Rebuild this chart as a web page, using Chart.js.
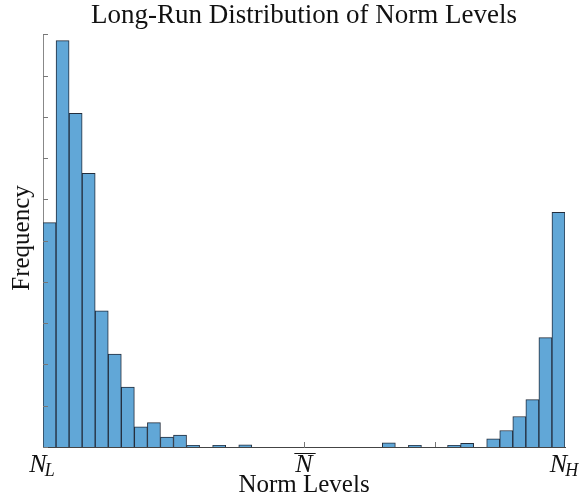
<!DOCTYPE html>
<html>
<head>
<meta charset="utf-8">
<script src="https://cdn.jsdelivr.net/npm/chart.js@4.4.1/dist/chart.umd.min.js"></script>
<style>
  body { margin: 0; background: #fff; }
  #wrap { width: 582px; height: 501px; }
</style>
</head>
<body>
<div id="wrap"><canvas id="histchart" width="582" height="501"></canvas></div>
<script>
// histogram: 40 equal bins between N_L and N_H
const binCount = 40;
const binFreq = [5.44, 9.85, 8.09, 6.63, 3.30, 2.25, 1.45, 0.49, 0.59, 0.24,
                 0.29, 0.04, 0, 0.04, 0, 0.05, 0, 0, 0, 0,
                 0, 0, 0, 0, 0, 0, 0.10, 0, 0.04, 0,
                 0, 0.04, 0.09, 0, 0.20, 0.40, 0.74, 1.15, 2.65, 5.69];
const tickValues = [0, 20, 40];
const tickLabels = [['N', 'L', false], ['N', '', true], ['N', 'H', false]];
const minorTicks = [20, 30];
const yTitle = 'Frequency';

const serif = '"Liberation Serif", "DejaVu Serif", serif';

const mathTicks = {
    id: 'mathTicks',
    afterDraw(chart) {
        const ctx = chart.ctx;
        const xs = chart.scales.x;
        const ys = chart.scales.y;
        ctx.save();
        // inward tick marks
        ctx.strokeStyle = '#777';
        ctx.lineWidth = 1;
        ys.ticks.forEach(t => {
            const py = Math.round(ys.getPixelForValue(t.value)) + 0.5;
            ctx.beginPath();
            ctx.moveTo(xs.left, py);
            ctx.lineTo(xs.left + 5, py);
            ctx.stroke();
        });
        minorTicks.forEach(v => {
            const px = Math.round(xs.getPixelForValue(v)) + 0.5;
            ctx.beginPath();
            ctx.moveTo(px, ys.bottom);
            ctx.lineTo(px, ys.bottom - 5);
            ctx.stroke();
        });
        // labels N_L, N-bar, N_H
        ctx.fillStyle = '#111';
        ctx.textBaseline = 'alphabetic';
        ctx.textAlign = 'left';
        tickValues.forEach((v, i) => {
            const [main, sub, bar] = tickLabels[i];
            ctx.font = 'italic 26px ' + serif;
            const wMain = ctx.measureText(main).width;
            ctx.font = 'italic 18px ' + serif;
            const wSub = sub ? ctx.measureText(sub).width : 0;
            const px = xs.getPixelForValue(v);
            const x0 = px - (wMain + wSub) / 2;
            const base = ys.bottom + 25;
            ctx.font = 'italic 26px ' + serif;
            ctx.fillText(main, x0, base);
            if (sub) {
                ctx.font = 'italic 18px ' + serif;
                ctx.fillText(sub, x0 + wMain - 2, base + 4);
            }
            if (bar) {
                ctx.beginPath();
                ctx.strokeStyle = '#111';
                ctx.moveTo(x0 - 1, ys.bottom + 6.5);
                ctx.lineTo(x0 + wMain + 3, ys.bottom + 6.5);
                ctx.stroke();
            }
        });
        // y axis title
        ctx.translate(22, 238);
        ctx.rotate(-Math.PI / 2);
        ctx.textAlign = 'center';
        ctx.textBaseline = 'middle';
        ctx.font = '25px ' + serif;
        ctx.fillText(yTitle, 0, 0);
        ctx.restore();
    }
};

const ctxgraph = document.getElementById('histchart').getContext('2d');
const histChart = new Chart(ctxgraph, {
    type: 'bar',
    data: {
        datasets: [{
            label: 'Frequency',
            data: binFreq.map((f, i) => ({ x: i + 0.5, y: f })),
            backgroundColor: 'rgb(97, 167, 215)',
            borderColor: 'rgb(35, 45, 60)',
            borderWidth: 1,
            barPercentage: 1,
            categoryPercentage: 1
        }]
    },
    options: {
        responsive: false,
        animation: false,
        layout: { padding: { left: 43, right: 17, top: 0, bottom: 1 } },
        plugins: {
            legend: { display: false },
            tooltip: { enabled: false },
            title: {
                display: true,
                text: 'Long-Run Distribution of Norm Levels',
                color: '#111',
                font: { family: serif, size: 27, weight: 'normal' },
                padding: { top: 0, bottom: 2 }
            }
        },
        scales: {
            x: {
                type: 'linear',
                offset: false,
                min: 0,
                max: binCount,
                grid: { display: false },
                border: { color: '#444' },
                ticks: { display: false },
                title: {
                    display: true,
                    text: 'Norm Levels',
                    color: '#111',
                    font: { family: serif, size: 25 },
                    padding: { top: 15, bottom: 0 }
                }
            },
            y: {
                min: 0,
                max: 10,
                grid: { display: false },
                border: { color: '#888' },
                ticks: { display: false, stepSize: 1 },
                afterFit(scale) { scale.width = 0; }
            }
        }
    },
    plugins: [mathTicks]
});
</script>
</body>
</html>
